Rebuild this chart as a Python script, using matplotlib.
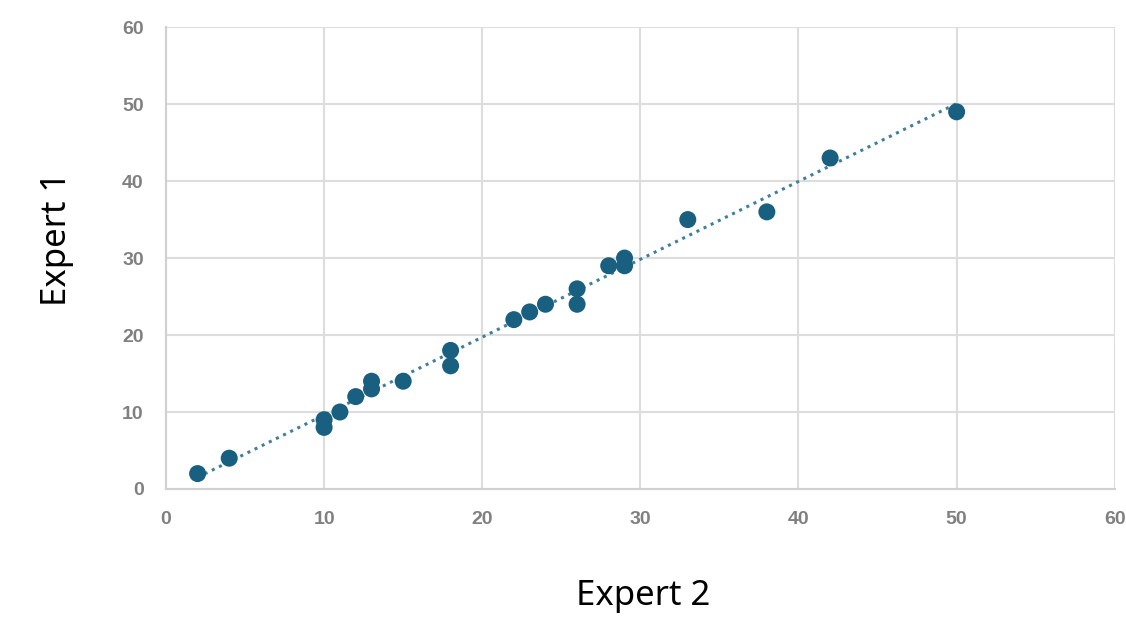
import numpy as np
import matplotlib
matplotlib.use("Agg")
import matplotlib.pyplot as plt

expert2 = [2, 4, 10, 10, 11, 12, 13, 13, 15, 18, 18, 22, 23, 24, 26, 26, 28, 29, 29, 33, 38, 42, 50]
expert1 = [2, 4, 9, 8, 10, 12, 14, 13, 14, 18, 16, 22, 23, 24, 26, 24, 29, 30, 29, 35, 36, 43, 49]
ticks = [0, 10, 20, 30, 40, 50, 60]

fig = plt.figure(figsize=(11.26, 6.17), dpi=100)
ax = fig.add_axes([0.1474, 0.2075, 0.8426, 0.7485])

color = "#195f80"
x = np.array(expert2, dtype=float)
y = np.array(expert1, dtype=float)
m, b = np.polyfit(x, y, 1)
xl = np.array([x.min(), x.max()])
ax.plot(xl, m * xl + b, linestyle=(0, (1, 1.6)), color="#3f7f9c", linewidth=2.2, zorder=2)
ax.scatter(x, y, s=150, color=color, zorder=3, edgecolors="none")

ax.set_xlim(0, 60)
ax.set_ylim(0, 60)
ax.set_xticks(ticks)
ax.set_yticks(ticks)
ax.grid(True, color="#dddddd", linewidth=1.5)
ax.set_axisbelow(True)
for s in ["top", "right"]:
    ax.spines[s].set_visible(False)
for s in ["left", "bottom"]:
    ax.spines[s].set_color("#d0d0d0")
    ax.spines[s].set_linewidth(1.5)
ax.tick_params(length=0, pad=16, labelsize=14, labelcolor="#808080")
for lab in ax.get_xticklabels() + ax.get_yticklabels():
    lab.set_family("Liberation Sans")
    lab.set_fontweight("bold")

fig.text(0.571, 0.034, "Expert 2", fontsize=25, family="Noto Sans", ha="center", va="center")
fig.text(0.051, 0.613, "Expert 1", fontsize=25, family="Noto Sans", rotation=90, ha="center", va="center")

fig.savefig("out.png", dpi=100)
